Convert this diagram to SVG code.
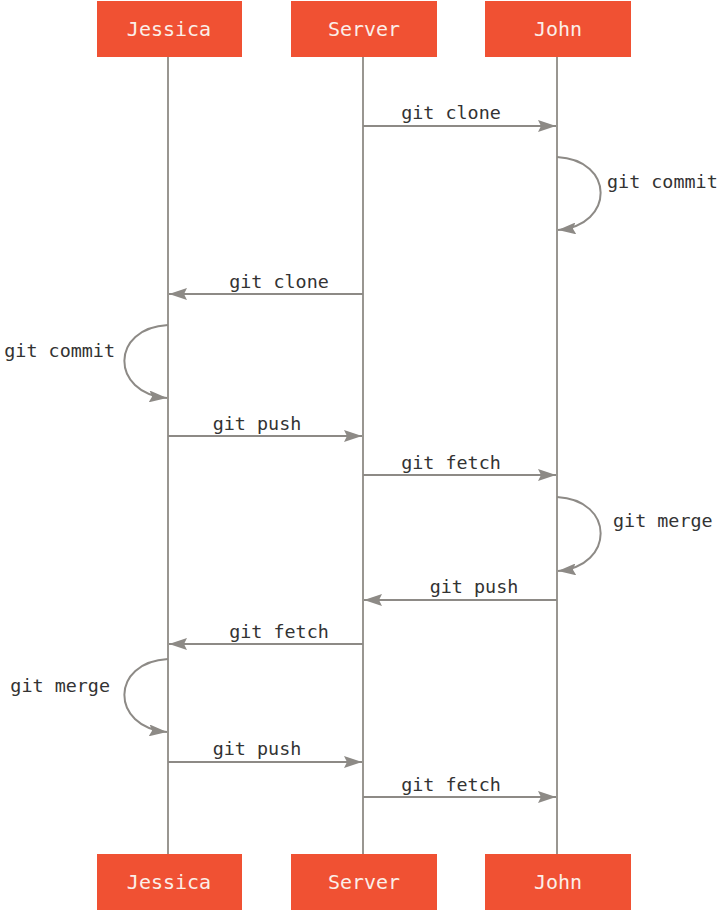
<svg xmlns="http://www.w3.org/2000/svg" width="725" height="920" viewBox="0 0 725 920">
<defs>
<marker id="ah" viewBox="0 0 18 12" refX="18" refY="6" markerWidth="18" markerHeight="12" markerUnits="userSpaceOnUse" orient="auto">
<path d="M0,0 L18,6 L0,12 L3,6 Z" fill="#8d8a86"/>
</marker>
<style>
.box{fill:#f05133}
.bt{font-family:"DejaVu Sans Mono","Liberation Mono",monospace;font-size:20px;fill:#fbeee8;text-anchor:middle}
.life{stroke:#999691;stroke-width:2;fill:none}
.ar{stroke:#8d8a86;stroke-width:2;fill:none;marker-end:url(#ah)}
.lb{font-family:"DejaVu Sans Mono","Liberation Mono",monospace;font-size:18.4px;fill:#333}
.m{text-anchor:middle}
.e{text-anchor:end}
</style>
</defs>
<rect width="725" height="920" fill="#fff"/>
<g id="lifelines">
<line class="life" x1="168" y1="57" x2="168" y2="854"/>
<line class="life" x1="363" y1="57" x2="363" y2="854"/>
<line class="life" x1="557" y1="57" x2="557" y2="854"/>
</g>
<g id="jessica-top"><rect class="box" x="97" y="1" width="145" height="56"/><text class="bt" x="169" y="36">Jessica</text></g>
<g id="server-top"><rect class="box" x="291" y="1" width="146" height="56"/><text class="bt" x="364" y="36">Server</text></g>
<g id="john-top"><rect class="box" x="485" y="1" width="146" height="56"/><text class="bt" x="558" y="36">John</text></g>
<g id="jessica-bottom"><rect class="box" x="97" y="854" width="145" height="56"/><text class="bt" x="169" y="889">Jessica</text></g>
<g id="server-bottom"><rect class="box" x="291" y="854" width="146" height="56"/><text class="bt" x="364" y="889">Server</text></g>
<g id="john-bottom"><rect class="box" x="485" y="854" width="146" height="56"/><text class="bt" x="558" y="889">John</text></g>
<g id="connectors">
<line class="ar" x1="363" y1="126" x2="556" y2="126"/>
<path class="ar" d="M557,157 C615,160 615,225 558,230"/>
<line class="ar" x1="363" y1="294" x2="169" y2="294"/>
<path class="ar" d="M168,325 C110,328 110,393 167,398"/>
<line class="ar" x1="168" y1="436" x2="362" y2="436"/>
<line class="ar" x1="363" y1="475" x2="556" y2="475"/>
<path class="ar" d="M557,497 C615,500 615,566 558,571"/>
<line class="ar" x1="557" y1="600" x2="364" y2="600"/>
<line class="ar" x1="363" y1="644" x2="169" y2="644"/>
<path class="ar" d="M168,659 C110,662 110,727 167,732"/>
<line class="ar" x1="168" y1="762" x2="362" y2="762"/>
<line class="ar" x1="363" y1="797" x2="556" y2="797"/>
</g>
<g id="labels">
<text class="lb m" x="451" y="119">git clone</text>
<text class="lb" x="607" y="188">git commit</text>
<text class="lb m" x="279" y="288">git clone</text>
<text class="lb e" x="115" y="357">git commit</text>
<text class="lb m" x="257" y="430">git push</text>
<text class="lb m" x="451" y="469">git fetch</text>
<text class="lb" x="613" y="527">git merge</text>
<text class="lb m" x="474" y="593">git push</text>
<text class="lb m" x="279" y="638">git fetch</text>
<text class="lb e" x="110" y="692">git merge</text>
<text class="lb m" x="257" y="755">git push</text>
<text class="lb m" x="451" y="791">git fetch</text>
</g>
</svg>
